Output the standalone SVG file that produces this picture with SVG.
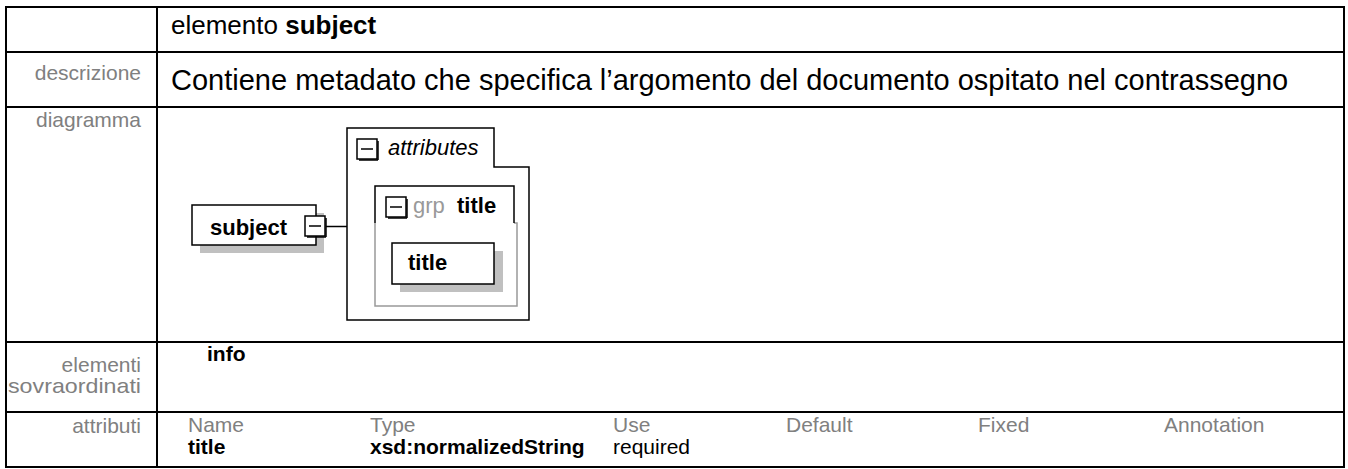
<svg xmlns="http://www.w3.org/2000/svg" width="1348" height="469" viewBox="0 0 1348 469">
<style>
.lbl{font-family:"Liberation Sans",Arial,sans-serif;font-size:21px;fill:#808080;text-anchor:end}
.txt{font-family:"Liberation Sans",Arial,sans-serif;font-size:21px;fill:#000}
.hdr{font-family:"Liberation Sans",Arial,sans-serif;font-size:21px;fill:#808080}
.b{font-weight:bold}
.grid{stroke:#000;stroke-width:2;fill:none}
.dg{font-family:"Liberation Sans",Arial,sans-serif;font-size:22px;font-weight:bold;fill:#000}
.box{fill:#fff;stroke:#000;stroke-width:1.5}
.shadow{fill:#c0c0c0}
.minus{fill:#fff;stroke:#000;stroke-width:1.5}
.ln{stroke:#000;stroke-width:1.5;fill:none}
</style>
<rect width="1348" height="469" fill="#fff"/>
<g id="table">
<rect x="6" y="7" width="1338" height="460" class="grid"/>
<line x1="157" y1="7" x2="157" y2="467" class="grid"/>
<line x1="6" y1="52" x2="1344" y2="52" class="grid"/>
<line x1="6" y1="107" x2="1344" y2="107" class="grid"/>
<line x1="6" y1="342" x2="1344" y2="342" class="grid"/>
<line x1="6" y1="412" x2="1344" y2="412" class="grid"/>
</g>
<g id="texts">
<text x="171" y="34" class="txt" style="font-size:26px">elemento <tspan class="b">subject</tspan></text>
<text x="141" y="80" class="lbl">descrizione</text>
<text x="171" y="90" class="txt" style="font-size:29px">Contiene metadato che specifica l’argomento del documento ospitato nel contrassegno</text>
<text x="141" y="127" class="lbl">diagramma</text>
<text x="141" y="372" class="lbl">elementi</text>
<text x="141" y="393" class="lbl" textLength="133" lengthAdjust="spacingAndGlyphs">sovraordinati</text>
<text x="207" y="361" class="txt b">info</text>
<text x="141" y="433" class="lbl">attributi</text>
<text x="188" y="432" class="hdr">Name</text>
<text x="370" y="432" class="hdr">Type</text>
<text x="613" y="432" class="hdr">Use</text>
<text x="786" y="432" class="hdr">Default</text>
<text x="978" y="432" class="hdr">Fixed</text>
<text x="1164" y="432" class="hdr">Annotation</text>
<text x="188" y="454" class="txt b">title</text>
<text x="370" y="454" class="txt b">xsd:normalizedString</text>
<text x="613" y="454" class="txt">required</text>
</g>
<g id="connectors">
<line x1="326" y1="226.5" x2="347" y2="226.5" class="ln"/>
</g>
<g id="attributes">
<path d="M347,320 V128 H494 V167 H529 V320 Z" fill="#fff" stroke="#000" stroke-width="1.5"/>
<rect x="357" y="139" width="20" height="20" class="minus"/>
<line x1="359" y1="160" x2="378" y2="160" class="ln"/>
<line x1="378" y1="141" x2="378" y2="160" class="ln"/>
<line x1="361" y1="149" x2="373" y2="149" class="ln"/>
<text x="388" y="155" style="font-family:'Liberation Sans',Arial,sans-serif;font-size:22px;font-style:italic;fill:#000">attributes</text>
</g>
<g id="grp-title">
<path d="M375,223 V306 H517 V223 H514" fill="none" stroke="#999" stroke-width="1.5"/>
<path d="M375,223 V186 H514 V223" fill="none" stroke="#000" stroke-width="1.5"/>
<rect x="386" y="197" width="20" height="20" class="minus"/>
<line x1="388" y1="218" x2="407" y2="218" class="ln"/>
<line x1="407" y1="199" x2="407" y2="218" class="ln"/>
<line x1="390" y1="207" x2="402" y2="207" class="ln"/>
<text x="413" y="213" style="font-family:'Liberation Sans',Arial,sans-serif;font-size:22px;fill:#999">grp</text>
<text x="457" y="213" class="dg">title</text>
</g>
<g id="title">
<rect x="400" y="251" width="103" height="41" class="shadow"/>
<rect x="392" y="243" width="102" height="41" class="box"/>
<text x="408" y="270" class="dg">title</text>
</g>
<g id="subject">
<rect x="200" y="213" width="124" height="40" class="shadow"/>
<rect x="192" y="205" width="124" height="40" class="box"/>
<text x="210" y="235" class="dg">subject</text>
<rect x="305" y="216" width="20" height="20" class="minus"/>
<line x1="307" y1="237" x2="326" y2="237" class="ln"/>
<line x1="326" y1="218" x2="326" y2="237" class="ln"/>
<line x1="309" y1="226" x2="321" y2="226" class="ln"/>
</g>
</svg>
